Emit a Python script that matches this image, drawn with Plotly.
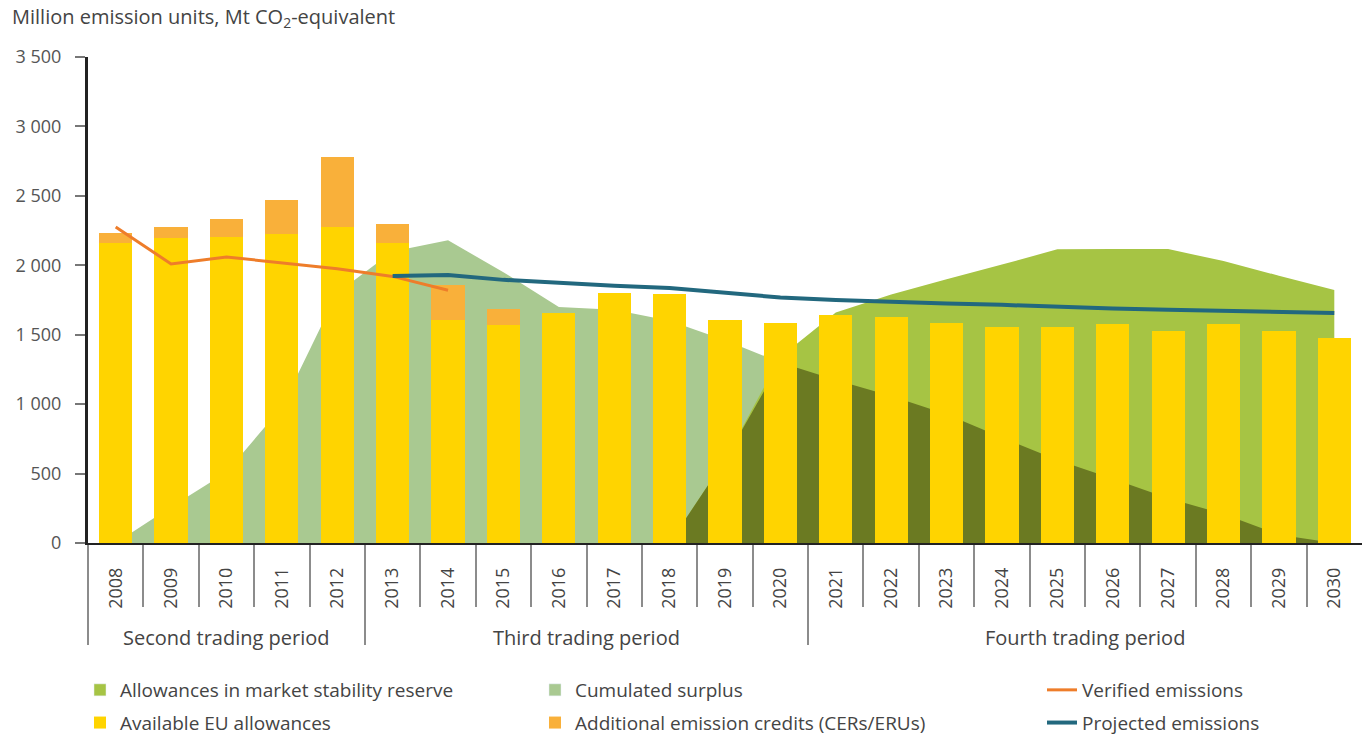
import numpy as np
import plotly.graph_objects as go

# ---------------- data ----------------
years = list(range(2008, 2031))
available_allowances = [2160, 2196, 2204, 2225, 2275, 2160, 1606, 1570, 1656, 1800, 1790, 1606,
                        1584, 1645, 1627, 1584, 1555, 1555, 1577, 1527, 1577, 1527, 1476]
additional_credits = [72, 80, 130, 245, 505, 137, 255, 115, 0, 0, 0, 0,
                      0, 0, 0, 0, 0, 0, 0, 0, 0, 0, 0]
cumulated_surplus = [0, 260, 510, 980, 1800, 2100, 2180, 1950, 1700, 1680, 1600, 1460,
                     1300, 1173, 1058, 928, 760, 597, 463, 323, 209, 60, 0]
msr_allowances = [0, 0, 0, 0, 0, 0, 0, 0, 0, 0, 0, 600,
                  1340, 1660, 1790, 1900, 2005, 2115, 2117, 2117, 2030, 1925, 1822]
verified_years = [2008, 2009, 2010, 2011, 2012, 2013, 2014]
verified_emissions = [2275, 2010, 2060, 2020, 1975, 1920, 1820]
projected_years = list(range(2013, 2031))
projected_emissions = [1923, 1930, 1895, 1872, 1852, 1836, 1800, 1768, 1750, 1735,
                       1725, 1715, 1700, 1688, 1680, 1672, 1665, 1656]
y_tickvals = [0, 500, 1000, 1500, 2000, 2500, 3000, 3500]
y_ticktext = ["0", "500", "1 000", "1 500", "2 000", "2 500", "3 000", "3 500"]
period_names = ["Second trading period", "Third trading period", "Fourth trading period"]
period_start = [2008, 2013, 2021]
period_end = [2012, 2020, 2030]

# ---------------- styles ----------------
C_MSR = "#a6c444"
C_SURPLUS = "#a9c991"
C_OVERLAP = "#6b7a22"
C_AVAIL = "#ffd400"
C_CREDITS = "#f9b03a"
C_VERIFIED = "#ee7d2a"
C_PROJECTED = "#22687e"
FONT = "Open Sans"
TXT = "#444444"

overlap = np.minimum(np.array(cumulated_surplus), np.array(msr_allowances))
year_bounds = [y + 0.5 for y in years[:-1]]
period_bounds = [s - 0.5 for s in period_start]
xr = [years[0] - 0.5, years[-1] + 0.5]

fig = go.Figure()

# legend proxies (square swatches) for the area series
fig.add_trace(go.Bar(x=[None], y=[None], name="Allowances in market stability reserve",
                     marker_color=C_MSR, legend="legend", legendgroup="a"))
fig.add_trace(go.Bar(x=[None], y=[None], name="Cumulated surplus",
                     marker_color=C_SURPLUS, legend="legend2", legendgroup="c"))

# areas (base subplot, drawn beneath the bars)
fig.add_trace(go.Scatter(x=years, y=cumulated_surplus, mode="none", fill="tozeroy",
                         fillcolor=C_SURPLUS, showlegend=False, hoverinfo="skip"))
fig.add_trace(go.Scatter(x=years, y=msr_allowances, mode="none", fill="tozeroy",
                         fillcolor=C_MSR, showlegend=False, hoverinfo="skip"))
fig.add_trace(go.Scatter(x=years, y=overlap, mode="none", fill="tozeroy",
                         fillcolor=C_OVERLAP, showlegend=False, hoverinfo="skip"))

# bars (overlay subplot)
fig.add_trace(go.Bar(x=years, y=available_allowances, width=0.6, name="Available EU allowances",
                     marker=dict(color=C_AVAIL, line=dict(width=0)), xaxis="x2", yaxis="y2",
                     legend="legend", legendgroup="b"))
fig.add_trace(go.Bar(x=years, y=additional_credits, width=0.6,
                     name="Additional emission credits (CERs/ERUs)",
                     marker=dict(color=C_CREDITS, line=dict(width=0)), xaxis="x2", yaxis="y2",
                     legend="legend2", legendgroup="d"))

# lines
fig.add_trace(go.Scatter(x=verified_years, y=verified_emissions, mode="lines",
                         name="Verified emissions", line=dict(color=C_VERIFIED, width=3),
                         xaxis="x2", yaxis="y2", legend="legend3", legendgroup="e"))
fig.add_trace(go.Scatter(x=projected_years, y=projected_emissions, mode="lines",
                         name="Projected emissions", line=dict(color=C_PROJECTED, width=4),
                         xaxis="x2", yaxis="y2", legend="legend3", legendgroup="f"))

annotations = []
for name, s, e in zip(period_names, period_start, period_end):
    annotations.append(dict(x=(s + e) / 2, y=(543 - 637) / 486, xref="x", yref="paper",
                            text=name, showarrow=False,
                            font=dict(family=FONT, size=20, color=TXT),
                            xanchor="center", yanchor="middle"))

leg_common = dict(orientation="v", xanchor="left", yanchor="top", bgcolor="rgba(0,0,0,0)",
                  font=dict(family=FONT, size=19, color=TXT), tracegroupgap=5,
                  traceorder="grouped", itemclick=False, itemdoubleclick=False)
leg_y = (543 - 671) / 486

fig.update_layout(
    width=1364, height=736,
    margin=dict(l=88, r=2, t=57, b=193, autoexpand=False),
    paper_bgcolor="white", plot_bgcolor="white",
    barmode="stack",
    font=dict(family=FONT, color=TXT),
    title=dict(text="Million emission units, Mt CO<sub>2</sub>-equivalent",
               x=12 / 1364, xanchor="left", xref="container",
               y=1 - 17 / 736, yanchor="middle", yref="container",
               font=dict(family=FONT, size=20, color=TXT)),
    xaxis=dict(range=xr, showline=True, linecolor="#222222", linewidth=2,
               ticks="outside", tickmode="array", tickvals=period_bounds, ticklen=100,
               tickwidth=1.5, tickcolor="#8c8c8c", showticklabels=False,
               showgrid=False, zeroline=False, fixedrange=True, automargin=False,
               minor=dict(tickmode="array", tickvals=year_bounds, ticks="outside",
                          ticklen=62, tickwidth=1.5, tickcolor="#8c8c8c", showgrid=False)),
    yaxis=dict(range=[0, 3500], showline=True, linecolor="#222222", linewidth=3,
               ticks="outside", ticklen=10, tickwidth=1.5, tickcolor="#777777",
               tickmode="array", tickvals=y_tickvals, ticktext=y_ticktext,
               tickfont=dict(family=FONT, size=18, color="#555555"), automargin=False,
               ticklabelstandoff=10, showgrid=False, zeroline=False, fixedrange=True),
    xaxis2=dict(range=xr, overlaying="x", anchor="y2", side="bottom",
                tickmode="array", tickvals=years, ticktext=[str(y) for y in years],
                tickangle=-90, ticks="", showline=False, showgrid=False, zeroline=False,
                tickfont=dict(family=FONT, size=18, color=TXT), ticklabelstandoff=20,
                fixedrange=True, automargin=False),
    yaxis2=dict(range=[0, 3500], overlaying="y", visible=False, fixedrange=True),
    legend=dict(x=(80 - 88) / 1274, y=leg_y, **leg_common),
    legend2=dict(x=(535 - 88) / 1274, y=leg_y, **leg_common),
    legend3=dict(x=(1042 - 88) / 1274, y=leg_y, **leg_common),
    annotations=annotations,
    showlegend=True,
)

fig.write_html("out.html", config={"displayModeBar": False},
               post_script="document.body.style.margin='0';document.body.style.overflow='hidden';")
